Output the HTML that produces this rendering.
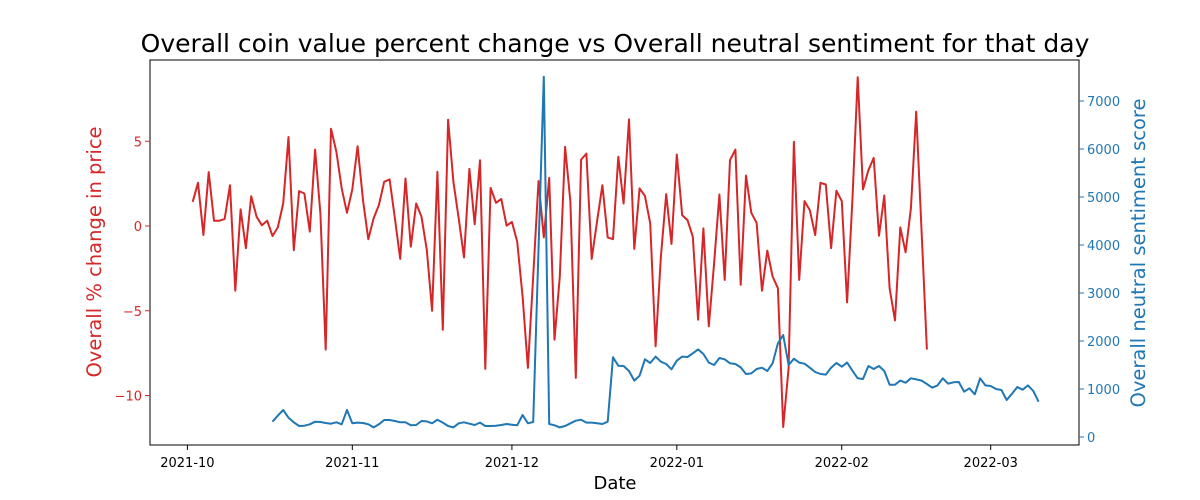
<!DOCTYPE html>
<html><head><meta charset="utf-8"><style>
body{margin:0;background:#fff;}
svg{display:block;font-family:"DejaVu Sans","Liberation Sans",sans-serif;}
</style></head><body>
<svg id="chart" width="1200" height="500">
<text x="615" y="52" text-anchor="middle" font-size="25">Overall coin value percent change vs Overall neutral sentiment for that day</text>
<rect x="150" y="60" width="929" height="385" fill="none" stroke="#000" stroke-width="1"/>
<g id="xaxis"></g>
<g id="yleft"></g>
<g id="yright"></g>
<g id="series"></g>
<text x="615" y="489" text-anchor="middle" font-size="18">Date</text>
<text transform="translate(101,252) rotate(-90)" text-anchor="middle" font-size="19.5" fill="#d62728">Overall % change in price</text>
<text transform="translate(1145,253) rotate(-90)" text-anchor="middle" font-size="19.5" fill="#1f77b4">Overall neutral sentiment score</text>
</svg>
<script>
// day offsets from 2021-10-01
const xTickDays = [0, 31, 61, 92, 123, 151];
const xTickLabels = ["2021-10","2021-11","2021-12","2022-01","2022-02","2022-03"];
const leftTicks = [5, 0, -5, -10];
const rightTicks = [0,1000,2000,3000,4000,5000,6000,7000];
const priceDays = [];
for (let d = 1; d <= 137; d++) priceDays.push(d);
priceDays.push(139);
const priceValues = [1.43,2.55,-0.53,3.18,0.31,0.31,0.41,2.41,-3.82,0.98,-1.31,1.76,0.55,0.04,0.31,-0.59,-0.08,1.33,5.25,-1.43,2.06,1.92,-0.33,4.51,0.74,-7.29,5.74,4.37,2.22,0.78,2.16,4.71,1.53,-0.78,0.45,1.24,2.61,2.75,0.45,-1.94,2.80,-1.22,1.33,0.55,-1.41,-5.0,3.2,-6.12,6.27,2.61,0.45,-1.86,3.37,0.1,3.88,
-8.43,2.25,1.37,1.59,0.02,0.24,-0.92,-4.16,-8.37,-2.98,2.65,-0.67,2.84,-6.71,-2.98,4.67,1.43,-8.96,3.92,4.27,-1.94,0.25,2.41,-0.67,-0.78,4.08,1.33,6.29,-1.35,2.22,1.78,0.16,-7.1,-1.8,1.88,-1.06,4.22,0.63,0.35,-0.63,-5.53,-0.14,-5.92,-2.2,1.86,-3.18,3.88,4.51,-3.47,2.98,0.78,0.19,-3.82,-1.45,-2.98,
-3.67,-11.86,-8.4,4.96,-3.18,1.47,0.94,-0.53,2.55,2.45,-1.31,2.08,1.47,-4.51,1.53,8.78,2.16,3.29,4.02,-0.57,1.8,-3.67,-5.57,-0.08,-1.55,1.04,6.75,-7.29];
const sentDays = [];
for (let d = 16; d <= 65; d++) sentDays.push(d);
for (let d = 67; d <= 160; d++) sentDays.push(d);
const sentValues = [319,444,563,403,306,229,236,264,319,313,292,278,306,264,563,285,299,292,264,201,264,354,354,333,306,306,243,250,333,326,285,361,299,229,201,285,306,278,250,299,
229,229,236,250,271,257,243,458,285,313,
7506,
271,243,201,229,285,340,361,299,299,285,271,319,1660,1486,1479,1375,1174,1278,1618,1542,1674,1569,1521,1410,1590,1674,1667,1743,1826,1729,1549,1500,1646,1618,1535,1521,1451,1313,1326,1417,1444,1375,1535,
1951,2125,1500,1632,1549,1528,1444,1354,1313,1299,1444,1542,1465,1549,1382,1222,1208,1479,1417,1479,1375,1090,1090,1174,1132,1222,1201,1174,1104,1028,1076,1222,1111,1139,1146,944,1014,889,1222,1076,1062,1000,979,771,903,1042,986,1076,958,736];

const NS = "http://www.w3.org/2000/svg";
const X = d => 187.4 + d * 5.32;
const YL = v => 226 - v * 16.95;
const YR = v => 437 - v * 0.048;
function mk(tag, attrs, parent){const e=document.createElementNS(NS,tag);for(const k in attrs)e.setAttribute(k,attrs[k]);parent.appendChild(e);return e;}
const fmt = v => (v < 0 ? "\u2212" + Math.abs(v) : String(v));

const xg = document.getElementById("xaxis");
xTickDays.forEach((d,i)=>{
  const l = mk("line",{x1:X(d),x2:X(d),y1:445,y2:450,stroke:"#000"},xg);
  
  
  const t = mk("text",{x:X(d),y:467,"text-anchor":"middle","font-size":"13"},xg);
  t.textContent = xTickLabels[i];
  
  
});
const lg = document.getElementById("yleft");
leftTicks.forEach(v=>{
  const l = mk("line",{x1:145,x2:150,y1:YL(v),y2:YL(v),stroke:"#d62728"},lg);
  
  
  const t = mk("text",{x:142,y:YL(v)+5,"text-anchor":"end","font-size":"13",fill:"#d62728"},lg);
  t.textContent = fmt(v);
  
  
});
const rg = document.getElementById("yright");
rightTicks.forEach(v=>{
  const l = mk("line",{x1:1079,x2:1084,y1:YR(v),y2:YR(v),stroke:"#1f77b4"},rg);
  
  
  const t = mk("text",{x:1087,y:YR(v)+5,"text-anchor":"start","font-size":"13",fill:"#1f77b4"},rg);
  t.textContent = String(v);
  
  
});
const sg = document.getElementById("series");
const rp = mk("path",{d:priceDays.map((d,i)=>(i?"L":"M")+X(d).toFixed(1)+","+YL(priceValues[i]).toFixed(1)).join(""),fill:"none",stroke:"#d62728","stroke-width":"2","stroke-linejoin":"round"},sg);


const bp = mk("path",{d:sentDays.map((d,i)=>(i?"L":"M")+X(d).toFixed(1)+","+YR(sentValues[i]).toFixed(1)).join(""),fill:"none",stroke:"#1f77b4","stroke-width":"2","stroke-linejoin":"round"},sg);


</script>
</body></html>
